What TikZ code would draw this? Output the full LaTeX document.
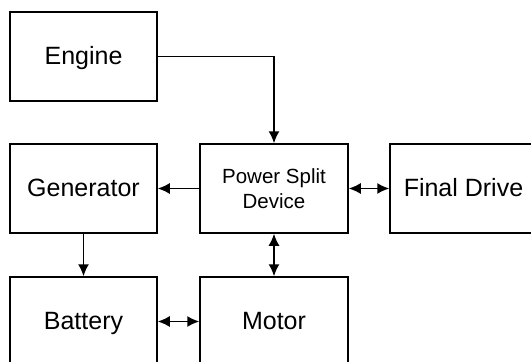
\documentclass[tikz,border=0pt]{standalone}
\usepackage{fontspec}
\setmainfont{Liberation Sans}
\usetikzlibrary{arrows.meta}
\begin{document}
\begin{tikzpicture}[x=1pt,y=-1pt,
  blockbox/.style={draw=black,line width=1.5pt,rectangle,minimum width=147pt,minimum height=89pt,inner sep=0pt,
    font=\fontsize{25}{29}\selectfont,text height=16.5pt,text depth=1pt},
  smallbox/.style={draw=black,line width=1.5pt,rectangle,minimum width=148pt,minimum height=89pt,inner sep=0pt,
    align=center,font=\fontsize{20.5}{24.4}\selectfont},
  conn/.style={line width=1.5pt,draw=black},
  onehead/.style={-{Latex[length=12pt,width=11pt]}},
  twohead/.style={{Latex[length=12pt,width=11pt]}-{Latex[length=12pt,width=11pt]}}
]
\useasboundingbox (0,0) rectangle (531,362);
\clip (0,0) rectangle (531,362);
\node[blockbox] (engine) at (83.5,56.5) {Engine};
\node[blockbox] (gen) at (83.5,188.5) {Generator};
\node[smallbox] (psd) at (274,188.5) {Power Split\\Device};
\node[blockbox] (fd) at (463.5,188.5) {Final Drive};
\node[blockbox] (bat) at (83.5,321.5) {Battery};
\node[smallbox] (motor) at (274,321.5) {};
\node[font=\fontsize{25}{29}\selectfont,text height=16.5pt,text depth=1pt,inner sep=0pt] (motortext) at (motor.center) {Motor};
\draw[conn,onehead] (engine.east) -| (psd.north);
\draw[conn,onehead] (psd.west) -- (gen.east);
\draw[conn,twohead] (psd.east) -- (fd.west);
\draw[conn,onehead] (gen.south) -- (bat.north);
\draw[conn,twohead] (psd.south) -- (motor.north);
\draw[conn,twohead] (bat.east) -- (motor.west);
\end{tikzpicture}
\end{document}
